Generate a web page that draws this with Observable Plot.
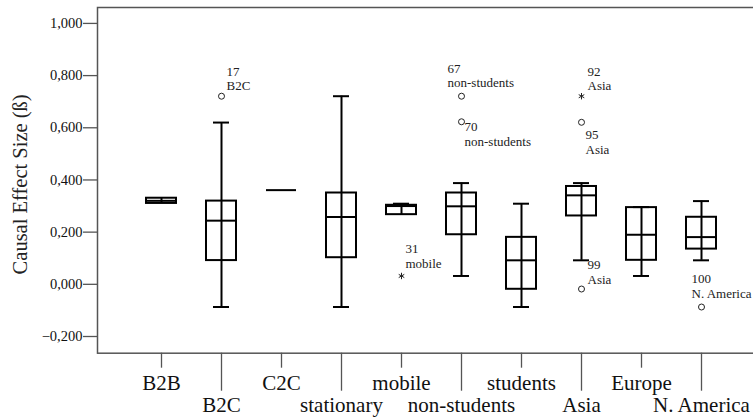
<!DOCTYPE html>
<html>
<head>
<meta charset="utf-8">
<script src="https://cdn.jsdelivr.net/npm/d3@7"></script>
<script src="https://cdn.jsdelivr.net/npm/@observablehq/plot@0.6"></script>
<style>
  html, body { margin: 0; padding: 0; background: white; overflow: hidden; }
  #chart svg { display: block; overflow: hidden; }
  #chart svg text { font-family: "Liberation Serif", "Times New Roman", serif !important; }
</style>
</head>
<body>
<div id="chart"></div>
<script>
// ---- data ----
const categories = ["B2B","B2C","C2C","stationary","mobile","non-students","students","Asia","Europe","N. America"];
const whiskerLow  = [0.310, -0.087, 0.361, -0.087, 0.267, 0.032, -0.087, 0.092, 0.032, 0.092];
const q1          = [0.310,  0.091, 0.361,  0.102, 0.267, 0.190, -0.019, 0.262, 0.092, 0.135];
const median      = [0.320,  0.244, 0.361,  0.258, 0.300, 0.299,  0.092, 0.341, 0.190, 0.181];
const q3          = [0.330,  0.319, 0.361,  0.350, 0.303, 0.350,  0.180, 0.375, 0.294, 0.257];
const whiskerHigh = [0.330,  0.620, 0.361,  0.721, 0.309, 0.388,  0.309, 0.388, 0.296, 0.319];

const outlierCategory = ["B2C","mobile","non-students","non-students","Asia","Asia","Asia","N. America"];
const outlierValue    = [0.721, 0.032, 0.721, 0.623, 0.721, 0.621, -0.018, -0.087];
const outlierCase     = ["17","31","67","70","92","95","99","100"];
const outlierExtreme  = [false, true, false, false, true, false, false, false];

const yTicks = [-0.2, 0, 0.2, 0.4, 0.6, 0.8, 1.0];
const yLabel = "Causal Effect Size (ß)";

// ---- tables ----
const boxes = categories.map((c, i) => ({
  cat: c, lo: whiskerLow[i], q1: q1[i], med: median[i], q3: q3[i], hi: whiskerHigh[i]
}));
const outliers = outlierCategory.map((c, i) => ({
  cat: c, value: outlierValue[i], id: outlierCase[i], extreme: outlierExtreme[i]
}));

// label placement (style only): offset of each case label from its point
const labelStyle = {
  "17":  {dx: 5,   dy: -18},
  "31":  {dx: 4,   dy: -20},
  "67":  {dx: -14, dy: -21},
  "70":  {dx: 3,   dy: 12},
  "92":  {dx: 6,   dy: -18},
  "95":  {dx: 4,   dy: 19},
  "99":  {dx: 6,   dy: -17},
  "100": {dx: -10, dy: -21}
};

const serif = "Liberation Serif";
const fmt = v => d3.format(".3f")(v).replace(".", ",");
const topRow = categories.filter((c, i) => i % 2 === 0);
const bottomRow = categories.filter((c, i) => i % 2 === 1);

const labelMarks = outliers.map(o => Plot.text([o], {
  x: "cat", y: "value",
  text: d => d.id + "\n" + d.cat,
  textAnchor: "start", lineAnchor: "middle", lineHeight: 1.15,
  dx: labelStyle[o.id].dx, dy: labelStyle[o.id].dy,
  fontSize: 13, fontFamily: serif, fill: "#222"
}));

const chart = Plot.plot({
  width: 753,
  height: 419,
  marginLeft: 97,
  marginRight: -12,
  marginTop: 7,
  marginBottom: 66.3,
  style: {fontFamily: serif, background: "white"},
  x: {type: "band", domain: categories, range: [131, 731], padding: 0, axis: null},
  y: {domain: [-0.264, 1.061], axis: null},
  marks: [
    Plot.frame({stroke: "#555", strokeWidth: 1.5}),
    Plot.axisY({ticks: yTicks, tickSize: 14, tickPadding: 1, tickFormat: fmt,
      fontSize: 14.5, fontFamily: serif, stroke: "#555", strokeWidth: 1.3, label: null, fill: "#111"}),
    Plot.axisX({ticks: topRow, tickSize: 15, tickPadding: 7, fontSize: 21,
      fontFamily: serif, stroke: "#555", strokeWidth: 1.3, label: null, fill: "#111"}),
    Plot.axisX({ticks: bottomRow, tickSize: 38, tickPadding: 6, fontSize: 21,
      fontFamily: serif, stroke: "#555", strokeWidth: 1.3, label: null, fill: "#111"}),
    Plot.text([yLabel], {frameAnchor: "left", textAnchor: "middle", dx: -77, dy: 4, rotate: -90,
      fontSize: 20.5, fontFamily: serif, fill: "#222"}),
    // whiskers
    Plot.ruleX(boxes.filter(d => d.hi > d.lo), {x: "cat", y1: "lo", y2: "hi", stroke: "black", strokeWidth: 2}),
    Plot.tickY(boxes.filter(d => d.hi > d.q3), {x: "cat", y: "hi", insetLeft: 22, insetRight: 22, stroke: "black", strokeWidth: 2}),
    Plot.tickY(boxes.filter(d => d.lo < d.q1), {x: "cat", y: "lo", insetLeft: 22, insetRight: 22, stroke: "black", strokeWidth: 2}),
    // boxes
    Plot.barY(boxes.filter(d => d.q3 > d.q1), {x: "cat", y1: "q1", y2: "q3", insetLeft: 15, insetRight: 15,
      fill: "none", stroke: "black", strokeWidth: 2}),
    // medians
    Plot.tickY(boxes, {x: "cat", y: "med", insetLeft: 15, insetRight: 15, stroke: "black", strokeWidth: 2}),
    // outliers
    Plot.dot(outliers.filter(d => !d.extreme), {x: "cat", y: "value", r: 3, stroke: "#222", strokeWidth: 1, fill: "white"}),
    Plot.dot(outliers.filter(d => d.extreme), {x: "cat", y: "value", r: 3, symbol: "asterisk", stroke: "#222", strokeWidth: 1}),
    ...labelMarks
  ]
});
document.getElementById("chart").appendChild(chart);
</script>
</body>
</html>
